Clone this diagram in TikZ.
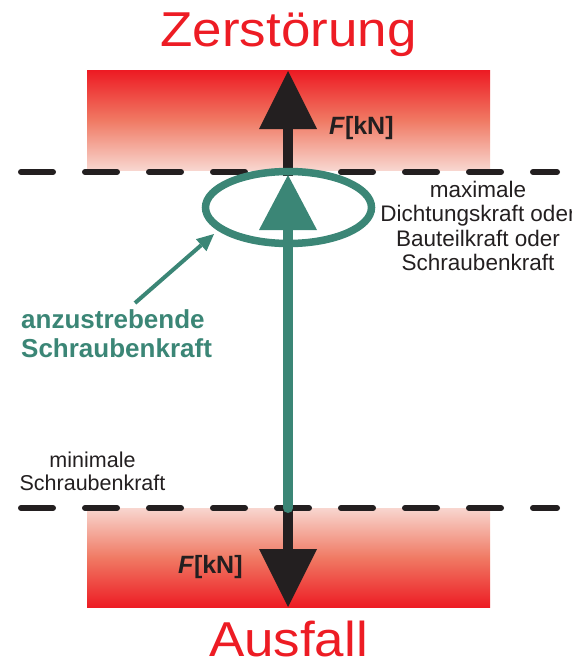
\documentclass[tikz,border=0pt]{standalone}
\usepackage{fontspec}
\setmainfont{Liberation Sans}
\usetikzlibrary{arrows.meta,shapes.geometric}

\definecolor{alarmred}{RGB}{237,28,36}
\definecolor{salmonred}{RGB}{240,122,100}
\definecolor{palered}{RGB}{248,214,207}
\definecolor{inkblack}{RGB}{35,31,32}
\definecolor{boltgreen}{RGB}{59,134,118}

\tikzset{
  zone/.style={draw=none, inner sep=0pt, minimum width=403pt},
  limitline/.style={draw=inkblack, line width=6pt, line cap=round,
    dash pattern=on 32pt off 32pt},
  forcearrow/.style={draw=inkblack, line width=9.5pt,
    -{Triangle[length=58pt, width=58pt, line width=0pt]}},
  boltarrow/.style={draw=boltgreen, line width=10pt, line cap=round,
    -{Triangle[length=55pt, width=58pt, line width=0pt]}},
  pointer/.style={draw=boltgreen, line width=4pt,
    -{Triangle[length=17pt, width=16pt, line width=0pt]}},
  ring/.style={ellipse, draw=boltgreen, line width=7.5pt, inner sep=0pt,
    minimum width=166pt, minimum height=72pt},
  headline/.style={text=alarmred, inner sep=0pt,
    font=\fontsize{49}{49}\selectfont},
  unitlabel/.style={text=inkblack, inner sep=0pt,
    font=\fontsize{25}{25}\selectfont\bfseries},
  note/.style={text=inkblack, inner sep=0pt, align=center},
  goal/.style={text=boltgreen, inner sep=0pt, align=left,
    font=\fontsize{26}{29}\selectfont\bfseries},
}

\begin{document}
\begin{tikzpicture}[x=1pt, y=-1pt]
\useasboundingbox (0,0) rectangle (571,661);

% failure zones
\node[zone, minimum height=99pt, top color=alarmred, bottom color=palered,
  middle color=salmonred] (breakzone) at (288.5,120.5) {};
\node[zone, minimum height=99pt, top color=palered, bottom color=alarmred,
  middle color=salmonred] (losszone) at (288.5,557.5) {};

% limit lines
\coordinate (maxL) at (21,172);
\coordinate (maxR) at (557,172);
\coordinate (minL) at (21,508);
\coordinate (minR) at (557,508);
\draw[limitline] (maxL) -- (maxR);
\draw[limitline] (minL) -- (minR);

% force directions
\coordinate (upfoot) at (288,176);
\coordinate (uptip) at (288,71);
\coordinate (downfoot) at (288,508);
\coordinate (downtip) at (288,607);
\draw[forcearrow] (upfoot) -- (uptip);
\draw[forcearrow] (downfoot) -- (downtip);

% target bolt force
\coordinate (boltfoot) at (288,508);
\coordinate (bolttip) at (288,175);
\draw[boltarrow] (boltfoot) -- (bolttip);
\node[ring] (window) at (288.5,207.5) {};

% labels (multi-line nodes sit on the baseline of their last line)
\node[headline, anchor=base] (title) at (288.5,47) {\scalebox{1.08}[1]{Zerstörung}};
\node[headline, anchor=base] (failure) at (288.5,656) {\scalebox{1.08}[1]{Ausfall}};
\node[unitlabel, anchor=base west] (unitup) at (329,134) {\textit{F}[kN]};
\node[unitlabel, anchor=base west] (unitdown) at (178,573) {\textit{F}[kN]};
\node[note, anchor=base, font=\fontsize{22.5}{24.5}\selectfont] (maxnote)
  at (478,270.5) {maximale\\Dichtungskraft oder\\Bauteilkraft oder\\Schraubenkraft};
\node[note, anchor=base, font=\fontsize{21.5}{23}\selectfont] (minnote)
  at (92.5,490) {minimale\\Schraubenkraft};
\node[goal, anchor=base west] (target) at (21,357) {anzustrebende\\Schraubenkraft};

% pointer to the target window
\coordinate (ptrfoot) at (135,303);
\coordinate (ptrtip) at (214,234);
\draw[pointer] (ptrfoot) -- (ptrtip);
\end{tikzpicture}
\end{document}
